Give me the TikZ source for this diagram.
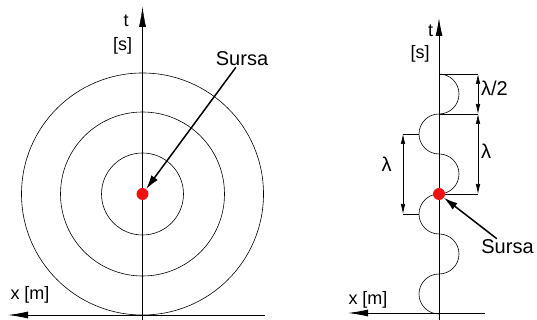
\documentclass[tikz,border=0pt]{standalone}
\usepackage{fontspec}
\setmainfont{Liberation Sans}
\usetikzlibrary{arrows.meta,positioning}
\definecolor{srcred}{RGB}{238,18,18}
\definecolor{thin}{RGB}{70,70,70}

\tikzset{
  ring/.style={thin,line width=0.6pt},
  axisline/.style={line width=0.9pt,-{Latex[length=20pt,width=7pt]}},
  waveline/.style={thin,line width=0.6pt},
  extline/.style={line width=0.6pt},
  dimline/.style={line width=0.6pt,{Latex[length=10pt,width=4.5pt]}-{Latex[length=10pt,width=4.5pt]}},
  pointer/.style={line width=1.5pt,-{Latex[length=14pt,width=8pt]}},
  srcdot/.style={circle,fill=srcred,minimum size=12pt,inner sep=0pt},
  axlabel/.style={font=\fontsize{18}{20}\selectfont,inner sep=1pt},
  biglabel/.style={font=\fontsize{20}{22}\selectfont,inner sep=1pt}
}

\begin{document}
\begin{tikzpicture}[x=1pt,y=1pt,>=Latex]
	\useasboundingbox (0,0) rectangle (537,320);
	% left panel: concentric waves
	\coordinate (cL) at (142.5,126);
	\draw[ring] (cL) circle[radius=41];
	\draw[ring] (cL) circle[radius=82];
	\draw[ring] (cL) circle[radius=121];
	\draw[axisline,line width=0.6pt,thin] (142.5,0) -- (142.5,313);
	\draw[axisline] (265,5) -- (8,5);
	\node[srcdot] (srcL) at (cL) {};
	\node[axlabel] (tL) at (126,299) {t};
	\node[axlabel] (sL) at (122.5,274) {[s]};
	\node[axlabel] (xL) at (30,25) {x [m]};
	\node[biglabel] (sursaL) at (242,261) {Sursa};
	\draw[pointer] (sursaL) -- (srcL);
	% right panel: travelling wave
	\coordinate (w0) at (439,246);
	\draw[waveline] (w0) arc[start angle=90,end angle=-90,radius=20]
		arc[start angle=90,end angle=270,radius=20]
		arc[start angle=90,end angle=-90,radius=20]
		arc[start angle=90,end angle=270,radius=20]
		arc[start angle=90,end angle=-90,radius=20]
		arc[start angle=90,end angle=270,radius=20];
	\draw[axisline,-{Latex[length=18pt,width=7pt]}] (439,0) -- (439,302);
	\draw[axisline] (485,7) -- (348,7);
	\coordinate (r1) at (478,246);
	\coordinate (r2) at (478,206);
	\coordinate (r3) at (478,126);
	\coordinate (l1) at (403,186);
	\coordinate (l2) at (403,106);
	\draw[extline] (w0) -- (r1);
	\draw[extline] (439,206) -- (r2);
	\draw[extline] (439,126) -- (r3);
	\draw[extline] (419,186) -- (l1);
	\draw[extline] (419,106) -- (l2);
	\draw[dimline] (r1) -- (r2);
	\draw[dimline] (r2) -- (r3);
	\draw[dimline] (l1) -- (l2);
	\node[biglabel] (half) at (494.5,232) {λ/2};
	\node[biglabel] (lamR) at (486,169) {λ};
	\node[biglabel] (lamL) at (386.7,156) {λ};
	\node[srcdot] (srcR) at (439,126) {};
	\node[axlabel] (tR) at (430.5,289) {t};
	\node[axlabel] (sR) at (420,266) {[s]};
	\node[axlabel] (xR) at (368,20) {x [m]};
	\node[biglabel] (sursaR) at (507.5,73) {Sursa};
	\draw[pointer] (sursaR) -- (srcR);
\end{tikzpicture}
\end{document}
